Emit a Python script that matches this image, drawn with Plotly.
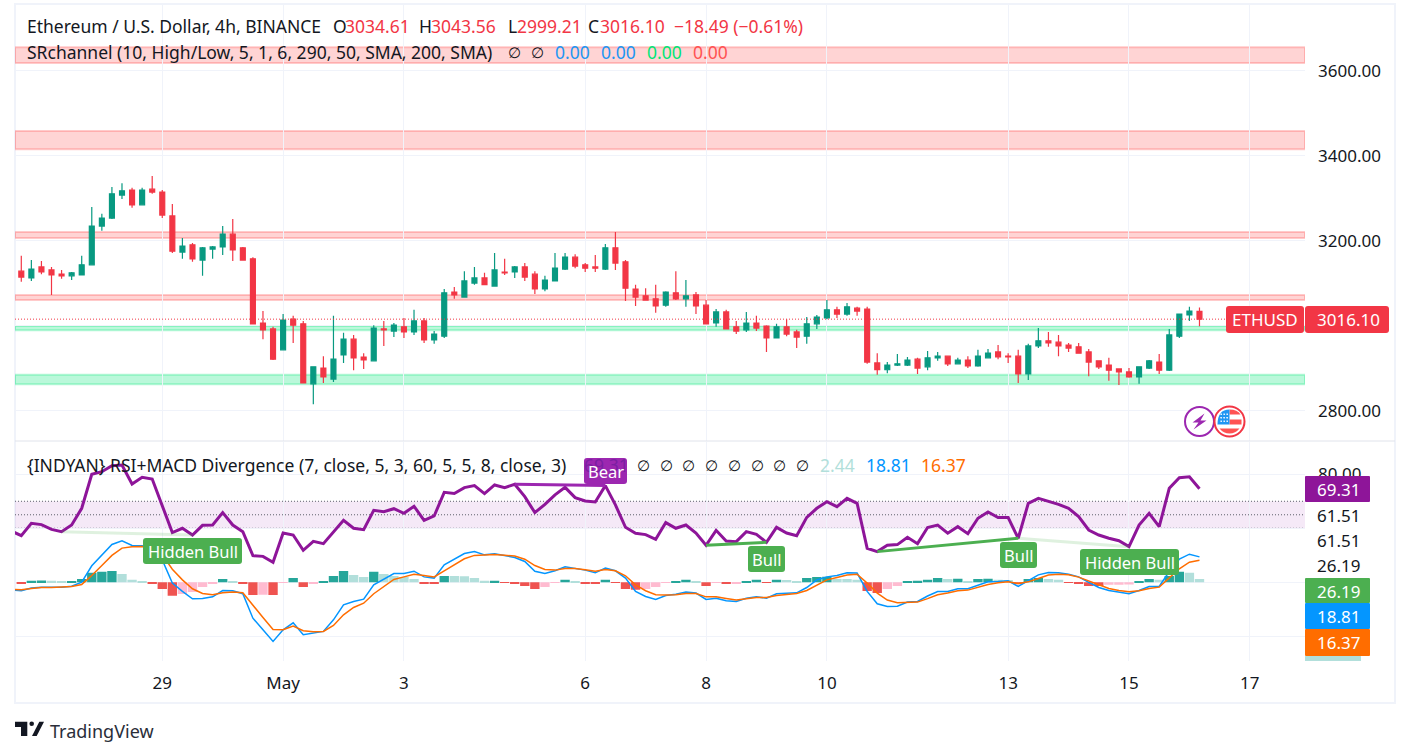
import pandas as pd
import plotly.graph_objects as go

W, H = 1410, 756
FONT = "Noto Sans"
INK = "#131722"
GRID = "#f0f3fa"
UP = "#089981"
DOWN = "#F23645"
PURPLE = "#8E1599"
BLUE = "#0496FF"
ORANGE = "#FF6D00"
GREEN = "#4CAF50"

# candles, 4h bars
opens = [3129,3113,3139,3132,3122,3118,3120,3144,3235,3254,3308,3320,3285,3322,3315,3259,3174,3191,3155,3181,3186,3216,3184,3158,3007,2993,2944,3016,3005,2864,2901,2875,2932,2969,2927,2918,2993,2988,2998,2986,3012,2967,2976,3080,3068,
         3101,3113,3094,3127,3127,3139,3122,3087,3106,3134,3162,3144,3139,3134,3184,3151,3087,3071,3064,3049,3078,3064,3073,3049,3007,3033,2998,2991,3007,3000,2972,2998,2986,2976,3005,3019,3038,3028,3042,3040,2913,2897,2908,2908,
         2922,2904,2925,2929,2911,2920,2906,2925,2939,2929,2929,2887,2953,2965,2962,2955,2951,2939,2918,2908,2899,2892,2880,2901,2915,2896,2976,3026,3034.61]
highs = [3165,3155,3153,3139,3132,3127,3165,3280,3264,3327,3336,3325,3325,3353,3320,3287,3207,3195,3186,3188,3235,3252,3186,3162,3035,2998,3028,3024,3012,2904,2929,3024,2984,2979,2936,3002,3012,3007,3019,3038,3019,2988,3087,3092,3129,
         3139,3125,3172,3158,3141,3148,3129,3118,3172,3172,3169,3148,3167,3193,3221,3155,3097,3089,3097,3082,3129,3108,3080,3061,3040,3038,3012,3033,3024,3002,3005,3016,2991,3021,3026,3061,3045,3054,3045,3045,2936,2915,2934,2927,
         2925,2941,2939,2929,2925,2929,2944,2946,2955,2936,2944,2958,2995,2986,2979,2960,2960,2946,2918,2925,2899,2901,2904,2920,2934,2993,3028,3045,3043.56]
lows = [3104,3106,3122,3073,3111,3108,3120,3144,3224,3252,3299,3278,3285,3311,3254,3172,3158,3151,3118,3158,3167,3153,3155,3005,2969,2920,2944,2960,2866,2816,2866,2868,2913,2896,2899,2918,2953,2974,2972,2979,2960,2958,2972,3064,3068,
        3097,3097,3094,3120,3113,3106,3075,3082,3106,3132,3136,3127,3127,3132,3132,3059,3047,3061,3031,3045,3061,3045,3028,3005,2998,2993,2981,2986,2988,2939,2972,2976,2948,2958,2993,3016,3019,3024,3024,2911,2885,2889,2906,2906,
        2887,2896,2918,2906,2911,2901,2904,2925,2922,2913,2866,2873,2948,2951,2929,2939,2936,2882,2899,2871,2861,2878,2864,2899,2887,2894,2972,3012,2999.21]
closes = [3115,3134,3127,3120,3118,3125,3144,3235,3254,3311,3318,3285,3320,3315,3261,3176,3188,3158,3184,3186,3216,3179,3155,3005,2991,2922,3014,3002,2866,2904,2880,2922,2969,2925,2920,2995,2991,3002,2986,3012,2967,2981,3078,3073,3106,
          3113,3097,3132,3125,3139,3115,3087,3108,3136,3162,3141,3136,3136,3184,3148,3089,3068,3061,3047,3080,3064,3071,3047,3005,3033,2993,2988,3007,2995,2972,2998,2981,2974,3005,3021,3038,3028,3045,3035,2915,2897,2908,2911,2920,
          2901,2925,2929,2911,2920,2906,2929,2936,2927,2927,2887,2953,2965,2960,2953,2948,2936,2915,2904,2896,2892,2880,2904,2918,2896,2979,3028,3035,3016.10]

# indicator lines, first value sits one bar left of the first candle
rsi = [38,34.5,43.7,42.7,39.2,37.5,42.4,54.8,80,81.9,86.4,86.9,72.8,77.7,76.5,57.3,36.8,40,35,42.2,42.4,51.6,42.4,37.5,19.7,19.2,14.8,36.5,35,23.7,30.3,28.6,37,45.9,40,39,53.3,52.3,54.5,51.1,56.3,45.9,49.1,66.6,65.7,70.1,
       71.6,65.7,72.1,70.1,72.6,63.4,51.6,57.7,64.7,70.3,62.7,60.2,59.5,71.6,57.3,40.7,36.3,35.3,31.8,44.2,40,42.4,36.5,27.4,38.5,30.6,30.1,37.5,35.5,29.6,40.7,36.5,34.5,48.1,54.8,59.7,56,62.2,58.5,25.2,22.7,27.4,27.9,33.3,28.6,
       40.6,42.4,36.3,41.2,36,47.4,52.1,47.9,47.9,32.6,58.5,62.2,60.2,57.7,54.8,48.6,38.7,35,32.6,30.8,26.4,42.4,51.1,41.2,69.6,77.5,78.2,69.31]
macd = [-5.8,-6.3,-4.3,-3.6,-3.6,-3.6,-2.9,0.1,12.2,20.3,28,30.7,27.3,27,24.5,16.6,-0.6,-6.8,-12.2,-12,-10.8,-6.1,-6.3,-8.5,-26.6,-35.2,-43.8,-35.2,-30,-38.9,-37.7,-36.4,-27.8,-16.7,-14.2,-12.5,-1.9,2.6,6.5,6.5,8.2,4,3.1,12.9,16.9,21.3,
        22.8,20.3,21.1,19.9,18.4,15.4,8.2,6.5,8.5,11.5,10.5,9,7,10.5,8.5,3.1,-6.8,-10.5,-12.7,-9.8,-8.8,-7.3,-8,-12.7,-11.8,-13.7,-14.2,-11.8,-10.8,-11.8,-8.5,-8,-7.8,-3.9,1.8,4,5,7,6.8,-6.8,-15.9,-17.9,-17.7,-14.7,-14.2,
        -10.2,-6.8,-6.8,-4.8,-4.8,-2.4,0.3,0.6,1.1,-3.1,1.1,5.5,7.3,7,6,4,-0.1,-3.9,-6.1,-7.1,-8.5,-6.1,-3.1,-3.1,8,17.1,20.8,18.81]
signal = [-5.1,-5.6,-4.6,-3.9,-3.9,-3.6,-3.1,-1.6,5,12.4,19.9,25.3,26.3,26.5,25.8,20.3,9.7,1.8,-4.8,-8.3,-9.3,-7.8,-7.3,-7.8,-17.2,-26.1,-35,-35.2,-32.5,-35.9,-36.7,-36.4,-32,-24.1,-18.7,-15.5,-8.5,-3.1,2.1,4,6,5,4,8.5,12.7,17.4,
          19.9,20.1,20.6,20.1,19.4,17.1,12.4,9.5,9,10.2,10.2,9.2,8.2,9.5,8.5,4.8,-1.9,-6.3,-9.3,-9.5,-9.3,-8.3,-8.3,-10.8,-10.8,-12,-13.2,-12.2,-11.3,-11.3,-9.8,-9,-8.3,-6.1,-1.9,1.8,3.6,5.3,6,-0.6,-8,-13.2,-15.2,-15.2,-14.7,
          -12.1,-9.3,-8,-6.3,-5.8,-3.9,-1.6,-0.4,0.3,-0.9,0.3,2.8,5.3,6,5.5,3.8,1.1,-2.1,-4.6,-6.1,-7.1,-6.3,-4.6,-3.6,3.1,10,14.9,16.37]
hist = [-1.2,1.2,1.3,1.1,0.9,1,2.5,7,7.7,8.4,6.2,1.8,1,-1.2,-4.9,-10,-8.6,-7.2,-3.5,-1.2,2.5,1,-1.2,-9.4,-9.2,-9.4,-0.5,3.2,-3.5,-1.2,1,4.7,8.4,5.4,3.9,7.7,6.2,4.7,3.9,2.5,-1.2,-1.3,4.7,4.6,4.5,
        3.2,1.1,1.2,-0.5,-0.6,-2.7,-4.9,-3.5,-0.5,1.8,1,-1.2,-1.3,1.8,-0.5,-4.9,-5.6,-4.9,-3.5,-0.5,1,1.8,1,-2.7,-0.5,-1.2,-1.1,1,1.8,-0.5,1.8,1.7,1,3.2,3.9,4,2.5,2.4,1.8,-6.4,-7.9,-4.9,-2.7,1,1.1,
        1.8,3.2,2.5,2.6,1,2.5,2.6,1.8,1.7,-1.5,2.5,3.2,2.5,1.8,-0.5,-1.2,-2.7,-2.8,-1.9,-1.8,-1.7,1,2.5,1.8,4.7,7.7,7,2.44]

# (first bar, last bar, colour) of the divergence lines
divergences = [(4, 17, "rgba(76,175,80,0.18)"), (49, 58, "#9C27B0"), (68, 74, GREEN),
               (85, 99, GREEN), (99, 110, "rgba(76,175,80,0.18)")]

# support / resistance channels, price low and high
red_zones = [(3619, 3656), (3416, 3459), (3207, 3221), (3061, 3073)]
green_zones = [(2990, 3000), (2863, 2885)]

price_ticks = [3600, 3400, 3200, 3000, 2800]
price_tick_text = ["3600.00", "3400.00", "3200.00", "", "2800.00"]
osc_ticks = [80, 40, 0, -40]
osc_tick_text = ["80.00", "", "", ""]
time_ticks = ["2024-04-29", "2024-05-01", "2024-05-03", "2024-05-06", "2024-05-08",
              "2024-05-10", "2024-05-13", "2024-05-15", "2024-05-17"]
time_tick_text = ["29", "May", "3", "6", "8", "10", "13", "15", "17"]

line_dates = pd.date_range("2024-04-26 12:00", periods=len(rsi), freq="4h")
dates = line_dates[1:]


def hist_colour(i):
    prev = hist[i - 1] if i else 0
    if hist[i] >= 0:
        return "#26A69A" if hist[i] >= prev else "#B2DFDB"
    return "#FFBBD0" if hist[i] > prev else "#EF5350"


def px(x):
    return x / W


def py(y):
    return 1 - y / H


def box_path(x0, y0, x1, y1, r=3):
    return (f"M{px(x0+r)},{py(y0)} L{px(x1-r)},{py(y0)} Q{px(x1)},{py(y0)} {px(x1)},{py(y0+r)} "
            f"L{px(x1)},{py(y1-r)} Q{px(x1)},{py(y1)} {px(x1-r)},{py(y1)} "
            f"L{px(x0+r)},{py(y1)} Q{px(x0)},{py(y1)} {px(x0)},{py(y1-r)} "
            f"L{px(x0)},{py(y0+r)} Q{px(x0)},{py(y0)} {px(x0+r)},{py(y0)} Z")


fig = go.Figure()
fig.add_trace(go.Candlestick(
    x=dates, open=opens, high=highs, low=lows, close=closes, xaxis="x", yaxis="y",
    increasing=dict(line=dict(color=UP, width=1.2), fillcolor=UP),
    decreasing=dict(line=dict(color=DOWN, width=1.2), fillcolor=DOWN),
    whiskerwidth=0, showlegend=False, hoverinfo="skip"))
fig.add_trace(go.Bar(x=dates, y=hist, marker=dict(color=[hist_colour(i) for i in range(len(hist))], line_width=0),
                     xaxis="x2", yaxis="y2", showlegend=False))
fig.add_trace(go.Scatter(x=line_dates, y=macd, mode="lines", line=dict(color=BLUE, width=1.5),
                         xaxis="x2", yaxis="y2", showlegend=False))
fig.add_trace(go.Scatter(x=line_dates, y=signal, mode="lines", line=dict(color=ORANGE, width=1.5),
                         xaxis="x2", yaxis="y2", showlegend=False))
fig.add_trace(go.Scatter(x=line_dates, y=rsi, mode="lines", line=dict(color=PURPLE, width=3),
                         xaxis="x2", yaxis="y2", showlegend=False))
for a, b, col in divergences:
    fig.add_trace(go.Scatter(x=[dates[a], dates[b]], y=[rsi[a + 1], rsi[b + 1]], mode="lines",
                             line=dict(color=col, width=3), xaxis="x2", yaxis="y2", showlegend=False))

shapes = []
x_lo, x_hi = "2024-04-26 13:30", "2024-05-17 21:55"
for lo, hi in red_zones:
    shapes.append(dict(type="rect", xref="x", yref="y", x0=x_lo, x1=x_hi, y0=lo, y1=hi, layer="below",
                       fillcolor="rgba(255,82,82,0.25)", line=dict(color="rgba(255,82,82,0.3)", width=2)))
for lo, hi in green_zones:
    shapes.append(dict(type="rect", xref="x", yref="y", x0=x_lo, x1=x_hi, y0=lo, y1=hi, layer="below",
                       fillcolor="rgba(0,230,118,0.27)", line=dict(color="rgba(0,230,118,0.28)", width=2)))
shapes.append(dict(type="rect", xref="x2", yref="y2", x0=x_lo, x1=x_hi, y0=40, y1=60, layer="below",
                   fillcolor="rgba(156,39,176,0.1)", line_width=0))
for level in (60, 50, 40):
    shapes.append(dict(type="line", xref="x2", yref="y2", x0=x_lo, x1=x_hi, y0=level, y1=level, layer="below",
                       line=dict(color="#5D606B", width=1, dash="1px,2px")))
# last price line
shapes.append(dict(type="line", xref="x", yref="y", x0=x_lo, x1=x_hi, y0=closes[-1], y1=closes[-1],
                   line=dict(color=DOWN, width=1, dash="1px,2px")))
# frame and pane divider
shapes.append(dict(type="rect", xref="paper", yref="paper", x0=px(15), x1=px(1395), y0=py(703), y1=py(4),
                   line=dict(color=GRID, width=2), layer="below"))
shapes.append(dict(type="line", xref="paper", yref="paper", x0=px(15), x1=px(1395), y0=py(441), y1=py(441),
                   line=dict(color="#E0E3EB", width=1)))


def label_box(x0, y0, x1, y1, col, r=3):
    shapes.append(dict(type="path", xref="paper", yref="paper", path=box_path(x0, y0, x1, y1, r),
                       fillcolor=col, line_width=0))


annotations = []


def text(x, y, s, col=INK, size=17.5, anchor="left"):
    annotations.append(dict(x=px(x), y=py(y), xref="paper", yref="paper", text=s, showarrow=False,
                            xanchor=anchor, yanchor="middle", borderpad=0, borderwidth=0,
                            font=dict(family=FONT, size=size, color=col)))


# legend rows
text(27, 26, "Ethereum / U.S. Dollar, 4h, BINANCE")
for x, s in [(333, "O"), (419, "H"), (508, "L"), (588, "C")]:
    text(x, 26, s)
for x, s in [(345, "3034.61"), (431, "3043.56"), (517, "2999.21"), (600, "3016.10"), (674, "−18.49 (−0.61%)")]:
    text(x, 26, s, DOWN)
text(27, 52, "SRchannel (10, High/Low, 5, 1, 6, 290, 50, SMA, 200, SMA)")
for x in (514, 537):
    text(x, 52, "∅", size=15, anchor="center")
text(555, 52, "0.00", "#2196F3")
text(601, 52, "0.00", "#2196F3")
text(647, 52, "0.00", "#00E676")
text(693, 52, "0.00", "#FF5252")
text(27, 465, "{INDYAN} RSI+MACD Divergence (7, close, 5, 3, 60, 5, 5, 8, close, 3)")
text(584, 465, "69.31", "#7B1FA2")
for x in (643, 666, 688, 712, 734, 757, 779, 802):
    text(x, 465, "∅", size=15, anchor="center")
text(820, 465, "2.44", "#B2DFDB")
text(866, 465, "18.81", BLUE)
text(921, 465, "16.37", ORANGE)

# signal labels on the oscillator
for x0, y0, x1, y1, s, col in [(143, 538, 242, 564, "Hidden Bull", GREEN), (748, 546, 785, 572, "Bull", GREEN),
                               (584, 458, 627, 484, "Bear", "#9C27B0"), (1000, 542, 1037, 568, "Bull", GREEN),
                               (1080, 549, 1179, 575, "Hidden Bull", GREEN)]:
    label_box(x0, y0, x1, y1, col)
    text((x0 + x1) / 2, (y0 + y1) / 2, s, "white", 16.5, anchor="center")

# price scale labels
label_box(1226, 306, 1304, 333, DOWN)
label_box(1305, 306, 1389, 333, DOWN)
text(1265, 319.5, "ETHUSD", "white", 17, anchor="center")
text(1348, 319.5, "3016.10", "white", 17, anchor="center")
label_box(1305, 476, 1370, 502, PURPLE, 1)
text(1338, 489, "69.31", "white", 17, anchor="center")
text(1338, 515, "61.51", size=17, anchor="center")
text(1338, 540, "61.51", size=17, anchor="center")
text(1338, 565, "26.19", size=17, anchor="center")
label_box(1305, 578, 1370, 603, GREEN, 1)
text(1338, 591, "26.19", "white", 17, anchor="center")
label_box(1305, 603, 1370, 629, BLUE, 1)
text(1338, 616, "18.81", "white", 17, anchor="center")
label_box(1305, 656, 1361, 661, "#B2DFDB", 0.5)
label_box(1305, 629, 1370, 656, ORANGE, 1)
text(1338, 642, "16.37", "white", 17, anchor="center")

# badge icons
cx, cy = 1199.5, 421.5
shapes.append(dict(type="circle", xref="paper", yref="paper", x0=px(cx - 14.5), x1=px(cx + 14.5), y0=py(cy + 14.5),
                   y1=py(cy - 14.5), fillcolor="white", line=dict(color="#9C27B0", width=2)))
bolt = [(5, -8), (-7, 1), (-1, 1), (-6, 8), (7, -1), (1, -1)]
shapes.append(dict(type="path", xref="paper", yref="paper", fillcolor="#9C27B0", line_width=0,
                   path="M" + " L".join(f"{px(cx + a)},{py(cy + b)}" for a, b in bolt) + " Z"))
fx, fy = 1229.5, 421.5
shapes.append(dict(type="circle", xref="paper", yref="paper", x0=px(fx - 15), x1=px(fx + 15), y0=py(fy + 15),
                   y1=py(fy - 15), fillcolor="white", line=dict(color=DOWN, width=2)))
shapes.append(dict(type="path", xref="paper", yref="paper", fillcolor="#FF5252", line_width=0,
                   path=f"M{px(fx)},{py(fy-12)} Q{px(fx+8)},{py(fy-12)} {px(fx+11)},{py(fy-7)} L{px(fx)},{py(fy-7)} Z"))
label_box(fx, fy - 2, fx + 12, fy + 3, "#FF5252", 0)
shapes.append(dict(type="path", xref="paper", yref="paper", fillcolor="#FF5252", line_width=0,
                   path=f"M{px(fx-10)},{py(fy+7)} L{px(fx+10)},{py(fy+7)} Q{px(fx+6)},{py(fy+12)} {px(fx)},{py(fy+12)} Q{px(fx-6)},{py(fy+12)} {px(fx-10)},{py(fy+7)} Z"))
shapes.append(dict(type="path", xref="paper", yref="paper", fillcolor="#2196F3", line_width=0,
                   path=f"M{px(fx)},{py(fy+3)} L{px(fx-12)},{py(fy+3)} Q{px(fx-12)},{py(fy-12)} {px(fx)},{py(fy-12)} Z"))
for dx in (-9, -6, -3):
    for dy in (-8, -4.5, -1):
        label_box(fx + dx, fy + dy, fx + dx + 1.4, fy + dy + 1.4, "white", 0.2)

# TradingView logo
shapes.append(dict(type="path", xref="paper", yref="paper", fillcolor=INK, line_width=0,
                   path=f"M{px(15)},{py(721.7)} L{px(27.3)},{py(721.7)} L{px(27.3)},{py(736)} L{px(21)},{py(736)} L{px(21)},{py(727)} L{px(15)},{py(727)} Z"))
shapes.append(dict(type="circle", xref="paper", yref="paper", fillcolor=INK, line_width=0,
                   x0=px(29.4), x1=px(34), y0=py(726), y1=py(721.4)))
shapes.append(dict(type="path", xref="paper", yref="paper", fillcolor=INK, line_width=0,
                   path=f"M{px(32)},{py(736)} L{px(36.7)},{py(736)} L{px(44)},{py(721.7)} L{px(39.3)},{py(721.7)} Z"))
text(50, 731, "TradingView", "#2A2E39", 18)

axis_common = dict(showline=False, zeroline=False, gridcolor=GRID, gridwidth=1, showspikes=False)
fig.update_layout(
    width=W, height=H, margin=dict(l=0, r=0, t=0, b=0), paper_bgcolor="white", plot_bgcolor="white",
    showlegend=False, bargap=0.07, font=dict(family=FONT, size=17, color=INK), dragmode=False,
    xaxis=dict(domain=[px(15), px(1305)], range=[x_lo, x_hi], type="date", anchor="y", rangeslider=dict(visible=False),
               tickmode="array", tickvals=time_ticks, ticktext=[""] * len(time_ticks), ticks="", **axis_common),
    yaxis=dict(domain=[py(441), py(4)], range=[2729.4, 3757.6], side="right", anchor="x", tickmode="array",
               tickvals=price_ticks, ticktext=price_tick_text, ticks="", ticklabelstandoff=12,
               tickfont=dict(family=FONT, size=17, color=INK), **axis_common),
    xaxis2=dict(domain=[px(15), px(1305)], range=[x_lo, x_hi], type="date", anchor="y2", matches="x",
                tickmode="array", tickvals=time_ticks, ticktext=time_tick_text, ticks="", ticklabelstandoff=10,
                tickfont=dict(family=FONT, size=17, color=INK), **axis_common),
    yaxis2=dict(domain=[py(660.7), py(442)], range=[-58.1, 103.9], side="right", anchor="x2", tickmode="array",
                tickvals=osc_ticks, ticktext=osc_tick_text, ticks="", ticklabelstandoff=12,
                tickfont=dict(family=FONT, size=17, color=INK), **axis_common),
    shapes=shapes, annotations=annotations,
)

fig.write_html("out.html", config=dict(displayModeBar=False),
               post_script="document.body.style.margin='0';")
